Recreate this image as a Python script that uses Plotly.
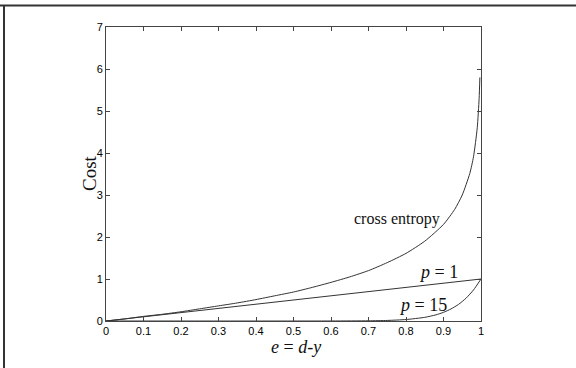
import plotly.graph_objects as go

# Data
e_ce = [0, 0.05, 0.1, 0.15, 0.2, 0.25, 0.3, 0.35, 0.4, 0.45, 0.5, 0.55, 0.6, 0.65,
        0.7, 0.75, 0.8, 0.85, 0.9, 0.93, 0.95, 0.97, 0.98, 0.99, 0.995, 0.997]
cost_ce = [0, 0.05, 0.11, 0.16, 0.22, 0.29, 0.36, 0.43, 0.51, 0.6, 0.69, 0.8, 0.92, 1.05,
           1.2, 1.39, 1.61, 1.9, 2.3, 2.66, 3.0, 3.51, 3.91, 4.6, 5.3, 5.8]

e_p1 = [0, 1]
cost_p1 = [0, 1]

e_p15 = [0, 0.6, 0.7, 0.75, 0.8, 0.85, 0.88, 0.9, 0.92, 0.94, 0.96, 0.98, 1]
cost_p15 = [0, 0.0005, 0.005, 0.013, 0.035, 0.087, 0.147, 0.206, 0.287, 0.395, 0.542, 0.739, 1]

x_ticks = [0, 0.1, 0.2, 0.3, 0.4, 0.5, 0.6, 0.7, 0.8, 0.9, 1]
x_ticklabels = ["0", "0.1", "0.2", "0.3", "0.4", "0.5", "0.6", "0.7", "0.8", "0.9", "1"]
y_ticks = [0, 1, 2, 3, 4, 5, 6, 7]

line_color = "#333333"

fig = go.Figure()
for xs, ys in [(e_ce, cost_ce), (e_p1, cost_p1), (e_p15, cost_p15)]:
    fig.add_trace(go.Scatter(x=xs, y=ys, mode="lines",
                             line=dict(color=line_color, width=1, shape="spline", smoothing=0.6),
                             showlegend=False, hoverinfo="skip"))

W, H = 576, 368
L, R, T, B = 106, 95, 26.5, 46.5
pw, ph = W - L - R, H - T - B

def px_x(p):
    return (p - L) / pw

def px_y(p):
    return (H - B - p) / ph

axis_common = dict(showgrid=False, zeroline=False, showline=True, linecolor="#444444",
                   linewidth=1, mirror="allticks", ticks="inside", ticklen=4,
                   tickcolor="#444444",
                   tickfont=dict(family="Liberation Sans, Arial, sans-serif", size=11, color="#000000"))

serif = "Liberation Serif, Times New Roman, serif"

def label(text, x, y, size, angle=0):
    return dict(text=text, xref="paper", yref="paper", x=px_x(x), y=px_y(y),
                xanchor="center", yanchor="middle", showarrow=False, textangle=angle,
                font=dict(family=serif, size=size, color="#111111"))

fig.update_layout(
    width=W, height=H,
    margin=dict(l=L, r=R, t=T, b=B),
    paper_bgcolor="white", plot_bgcolor="white",
    xaxis=dict(range=[0, 1], tickvals=x_ticks, ticktext=x_ticklabels, **axis_common),
    yaxis=dict(range=[0, 7], tickvals=y_ticks, **axis_common),
    shapes=[
        dict(type="line", xref="paper", yref="paper", x0=px_x(0), x1=px_x(W),
             y0=px_y(5), y1=px_y(5), line=dict(color="#333333", width=2)),
        dict(type="line", xref="paper", yref="paper", x0=px_x(4), x1=px_x(4),
             y0=px_y(5), y1=px_y(H + 2), line=dict(color="#333333", width=2)),
    ],
    annotations=[
        label("Cost", 89, 173, 19, -90),
        label("<i>e</i> = <i>d</i>-<i>y</i>", 296, 348, 18),
        label("cross entropy", 397, 219, 16),
        label("<i>p</i> = 1", 438, 272, 18),
        label("<i>p</i> = 15", 423, 305, 18),
    ],
)

fig.write_html("out.html", config={"displayModeBar": False},
               post_script="document.body.style.margin='0px';")
